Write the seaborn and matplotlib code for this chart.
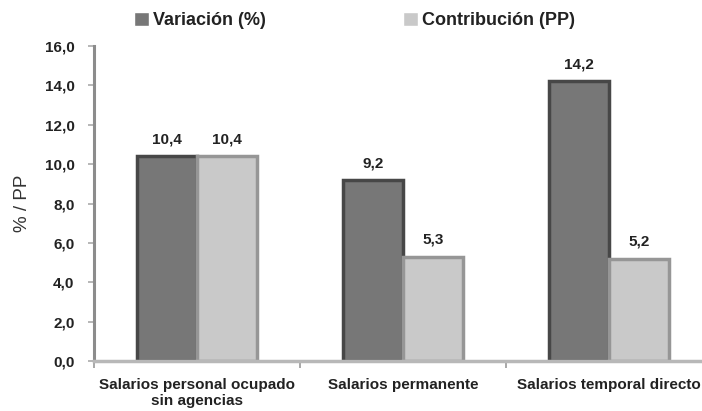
import matplotlib
matplotlib.use('Agg')
import matplotlib.pyplot as plt
from matplotlib.ticker import FixedLocator, FuncFormatter
import seaborn as sns
import pandas as pd

categories = ['Salarios personal ocupado\nsin agencias', 'Salarios permanente', 'Salarios temporal directo']
series = ['Variación (%)', 'Contribución (PP)']
variacion = [10.4, 9.2, 14.2]
contribucion = [10.4, 5.3, 5.2]
yticks = [0, 2, 4, 6, 8, 10, 12, 14, 16]

df = pd.DataFrame({
    'categoria': categories * 2,
    'serie': [series[0]] * 3 + [series[1]] * 3,
    'valor': variacion + contribucion,
})

sns.set_style('white')
plt.rcParams['font.family'] = ['Liberation Sans', 'DejaVu Sans']

fig = plt.figure(figsize=(7.02, 4.11), dpi=100)
ax = fig.add_axes([94 / 702, 50 / 411, 618 / 702, 315 / 411])

palette = {series[0]: '#777777', series[1]: '#c9c9c9'}
sns.barplot(data=df, x='categoria', y='valor', hue='serie', palette=palette,
            width=0.58, gap=0, ax=ax, legend=True)

edges = ['#474747', '#969696']
for cont, ec in zip(ax.containers, edges):
    for bar in cont:
        bar.set_edgecolor(ec)
        bar.set_linewidth(2.5)
    ax.bar_label(cont, labels=[f'{v:.1f}'.replace('.', ',') for v in cont.datavalues],
                 padding=7, fontsize=11, fontweight='bold', color='#222222')

ax.set_ylim(0, 16)
ax.set_xlim(-0.5, 2.5)
ax.yaxis.set_major_locator(FixedLocator(yticks))
ax.yaxis.set_major_formatter(FuncFormatter(lambda v, p: f'{v:.1f}'.replace('.', ',')))
ax.tick_params(axis='y', labelsize=11, length=4, width=1.2, color='#aaaaaa', direction='out', left=True, pad=10)
for t in ax.get_yticklabels():
    t.set_fontweight('bold')
    t.set_color('#222222')

ax.set_xticks([-0.5, 0.5, 1.5, 2.5], minor=True)
ax.tick_params(axis='x', which='minor', length=5, width=1.2, color='#999999', bottom=True)
ax.tick_params(axis='x', which='major', length=0, labelsize=11, pad=12)
for t in ax.get_xticklabels():
    t.set_fontweight('bold')
    t.set_color('#222222')

ax.set_xlabel('')
ax.set_ylabel('% / PP', fontsize=13.5, color='#333333', labelpad=10)

for s in ['top', 'right']:
    ax.spines[s].set_visible(False)
ax.spines['left'].set_color('#8c8c8c')
ax.spines['left'].set_linewidth(2.2)
ax.spines['bottom'].set_color('#b8b8b8')
ax.spines['bottom'].set_linewidth(2.5)

ax.get_legend().remove()
handles, labels = ax.get_legend_handles_labels()
leg = fig.legend(handles, labels, loc='upper left', bbox_to_anchor=(134 / 702, 1 - 12 / 411),
                 ncol=2, frameon=False, fontsize=13, handlelength=0.85, handleheight=0.8,
                 handletextpad=0.2, columnspacing=7.6, borderpad=0, borderaxespad=0)
for t in leg.get_texts():
    t.set_fontweight('bold')
    t.set_color('#222222')

fig.savefig('out.png', dpi=100)
